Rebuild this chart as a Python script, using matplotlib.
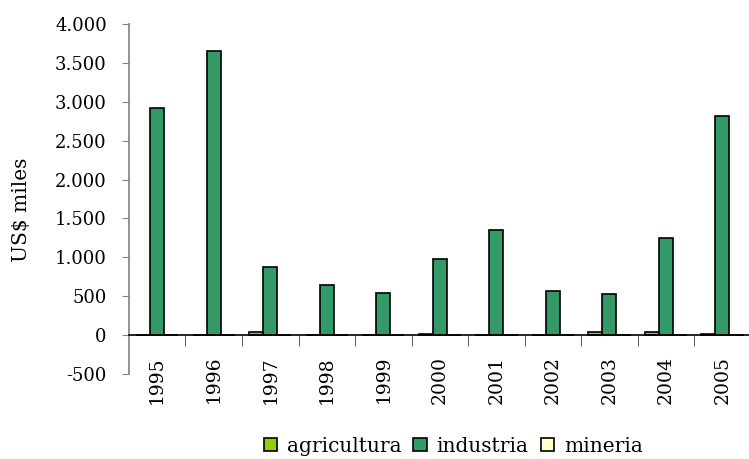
import numpy as np
import matplotlib.pyplot as plt
from matplotlib.ticker import FuncFormatter, MultipleLocator

plt.rcParams['font.family'] = ['DejaVu Serif']

# Data
years = ['1995', '1996', '1997', '1998', '1999', '2000',
         '2001', '2002', '2003', '2004', '2005']
agricultura = [0, 0, 45, 0, 0, 15, 0, 0, 45, 45, 15]
industria = [2920, 3650, 875, 645, 545, 975, 1350, 570, 525, 1250, 2820]
mineria = [0, 0, 0, 0, 0, 0, 0, 0, 0, 0, 0]

fig = plt.figure(figsize=(7.49, 4.59), dpi=100)
ax = fig.add_axes([0.1722, 0.1852, 0.83, 0.7625])

x = np.arange(len(years))
w = 0.25
ax.bar(x - w, agricultura, w, color='#99CC00', edgecolor='black', linewidth=1.2, label='agricultura')
ax.bar(x, industria, w, color='#339966', edgecolor='black', linewidth=1.2, label='industria')
ax.bar(x + w, mineria, w, color='#FFFFCC', edgecolor='black', linewidth=1.2, label='mineria')

ax.set_xlim(-0.5, len(years) - 0.5)
ax.set_ylim(-500, 4000)
ax.yaxis.set_major_locator(MultipleLocator(500))
ax.yaxis.set_major_formatter(FuncFormatter(lambda v, p: f'{int(v):,}'.replace(',', '.')))

# x axis sits on zero
ax.spines['bottom'].set_position(('data', 0))
ax.spines['bottom'].set_linewidth(1.2)
ax.spines['top'].set_visible(False)
ax.spines['right'].set_visible(False)
ax.spines['left'].set_color('#808080')
ax.spines['left'].set_linewidth(1.2)

ax.set_xticks(x)
ax.set_xticklabels(years, rotation=90, fontsize=13.5)
ax.set_xticks(np.arange(len(years)) + 0.5, minor=True)
ax.tick_params(axis='x', which='major', length=0, pad=15)
ax.tick_params(axis='x', which='minor', length=8, color='#404040', direction='out')
ax.tick_params(axis='y', length=5, color='#808080', labelsize=13, pad=11)

ax.set_ylabel('US$ miles', fontsize=14.5)
ax.yaxis.set_label_coords(-0.158, 0.47)

fig.legend(loc='center', bbox_to_anchor=(0.605, 0.028), ncol=3, frameon=False,
           fontsize=14.5, handlelength=0.65, handleheight=0.65, handletextpad=0.5,
           columnspacing=0.6, borderaxespad=0)

plt.savefig('out.png', dpi=100)
